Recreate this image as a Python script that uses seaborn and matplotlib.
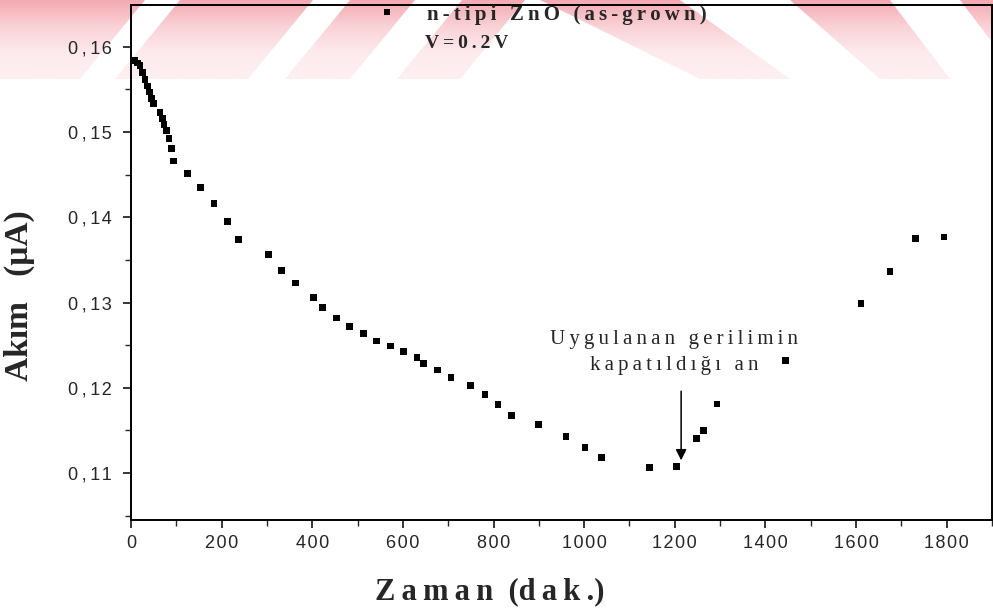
import numpy as np
import pandas as pd
import matplotlib
matplotlib.use("Agg")
import matplotlib.pyplot as plt
import seaborn as sns
from matplotlib.path import Path
from matplotlib.patches import PathPatch
from matplotlib.colors import LinearSegmentedColormap
from matplotlib.ticker import FuncFormatter, MultipleLocator

# ----------------------------------------------------------------
# Data: time (min) vs current (uA)
# ----------------------------------------------------------------
zaman = [9, 14, 20, 26, 31, 36, 41, 46, 50, 64, 69, 73, 79, 84, 89, 93,
         124, 153, 183, 213, 238, 303, 333, 363, 402, 422, 453, 482, 513,
         542, 573, 602, 631, 645, 677, 706, 750, 781, 810, 840, 899, 960,
         1002, 1039, 1144, 1204, 1248, 1264, 1293, 1445, 1611, 1675, 1732, 1794]
akim = [0.1584, 0.1581, 0.1578, 0.1570, 0.1562, 0.1554, 0.1547, 0.1539, 0.1533,
        0.1523, 0.1516, 0.1509, 0.1502, 0.1492, 0.1481, 0.1466,
        0.1451, 0.1435, 0.1416, 0.1395, 0.1374, 0.1356, 0.1338, 0.1323, 0.1306,
        0.1294, 0.1282, 0.1272, 0.1264, 0.1255, 0.1249, 0.1243, 0.1236, 0.1229,
        0.1221, 0.1212, 0.1203, 0.1192, 0.1180, 0.1168, 0.1157, 0.1143, 0.1130,
        0.1118, 0.1107, 0.1108, 0.1141, 0.1150, 0.1181, 0.1232, 0.1299, 0.1336,
        0.1375, 0.1377]
seri_adi = "n-tipi ZnO (as-grown)"
gerilim_off = 1214          # moment the bias was switched off
ok_ust, ok_alt = 0.1196, 0.1115

df = pd.DataFrame({"Zaman": zaman, "Akim": akim, "seri": seri_adi})

TS = "\u2009"  # thin space, the scan uses loosely tracked type
HS = "\u200a"  # hair space for the tick labels


def spaced(s, sep=TS):
    return sep.join(s)


def y_fmt(v, p):
    tam, ond = f"{v:.2f}".split(".")
    return tam + TS + "," + TS + spaced(ond, HS)


sns.set_style("ticks")
plt.rcParams["font.family"] = ["Liberation Sans", "DejaVu Sans"]

fig = plt.figure(figsize=(9.93, 6.14), dpi=100)

# ----------------------------------------------------------------
# faint red striped watermark along the top of the scan
# ----------------------------------------------------------------
bg = fig.add_axes([0, 0, 1, 1], zorder=0)
bg.set_xlim(0, 993)
bg.set_ylim(614, 0)
bg.axis("off")
band_h = 79
sol = [(-80, 80), (115, 248), (285, 350), (397, 460)]
sag = [(540, 680, 700, 790), (790, 890, 880, 950), (960, 1040, 1020, 1100)]
verts, codes = [], []
for a, b in sol:
    verts += [(a, band_h), (b, band_h), (b + 65, 0), (a + 65, 0), (a, band_h)]
    codes += [Path.MOVETO, Path.LINETO, Path.LINETO, Path.LINETO, Path.CLOSEPOLY]
for a, b, c, d in sag:
    verts += [(a, 0), (b, 0), (d, band_h), (c, band_h), (a, 0)]
    codes += [Path.MOVETO, Path.LINETO, Path.LINETO, Path.LINETO, Path.CLOSEPOLY]
patch = PathPatch(Path(verts, codes), facecolor="none", edgecolor="none")
bg.add_patch(patch)
cmap = LinearSegmentedColormap.from_list("wm", ["#f4aab2", "#f9d2d7", "#fdeaed", "#fdf0f2"])
img = bg.imshow(np.linspace(0, 1, 100).reshape(-1, 1), extent=[0, 993, band_h, 0],
                cmap=cmap, aspect="auto")
img.set_clip_path(patch)

# ----------------------------------------------------------------
# main plot
# ----------------------------------------------------------------
ax = fig.add_axes([0.1319, 0.1531, 0.8671, 0.8388], zorder=1)
ax.set_facecolor("none")
sns.scatterplot(data=df, x="Zaman", y="Akim", hue="seri", palette=["black"],
                marker="s", s=24, linewidth=0, ax=ax)

ax.set_xlim(0, 1900)
ax.set_ylim(0.1045, 0.1649)
ax.xaxis.set_major_locator(MultipleLocator(200))
ax.xaxis.set_minor_locator(MultipleLocator(100))
ax.yaxis.set_major_locator(MultipleLocator(0.01))
ax.yaxis.set_minor_locator(MultipleLocator(0.005))
ax.xaxis.set_major_formatter(FuncFormatter(lambda v, p: spaced(f"{v:.0f}", HS)))
ax.yaxis.set_major_formatter(FuncFormatter(y_fmt))
ax.tick_params(which="major", direction="out", length=6, width=1.3, labelsize=13, pad=5)
ax.tick_params(axis="y", which="major", pad=8)
ax.tick_params(which="minor", direction="out", length=4, width=1.0)
for sp in ax.spines.values():
    sp.set_linewidth(1.4)
    sp.set_color("black")

serif = ["Liberation Serif", "DejaVu Serif"]
serif_b = dict(family=serif, weight="bold")
ax.set_xlabel(spaced("Zaman") + "  (" + spaced("dak.") + ")", fontsize=22, **serif_b)
ax.xaxis.set_label_coords(0.417, -0.112)
ax.set_ylabel("Akım   (μA)", fontsize=24, **serif_b)
ax.yaxis.set_label_coords(-0.112, 0.435)

# legend and bias note at the top
leg = ax.legend(loc="center left", bbox_to_anchor=(0.264, 0.981), frameon=False,
                handletextpad=0.9, borderaxespad=0, markerscale=0.8,
                prop=dict(family=serif, weight="bold", size=15))
leg.get_texts()[0].set_text(spaced(seri_adi))
ax.text(0.3415, 0.926, spaced("V=0.2V"), transform=ax.transAxes, ha="left", va="center",
        fontsize=14, **serif_b)

# arrow marking the switch-off moment
ax.annotate("", xy=(gerilim_off, ok_alt), xytext=(gerilim_off, ok_ust),
            arrowprops=dict(arrowstyle="-|>", color="black", lw=1.1,
                            mutation_scale=16, shrinkA=0, shrinkB=0))
ax.text(1199, 0.1242, spaced("Uygulanan gerilimin") + "\n" + spaced("kapatıldığı an"),
        ha="center", va="center", fontsize=15, linespacing=1.5, family=serif)

fig.savefig("out.png", dpi=100)
